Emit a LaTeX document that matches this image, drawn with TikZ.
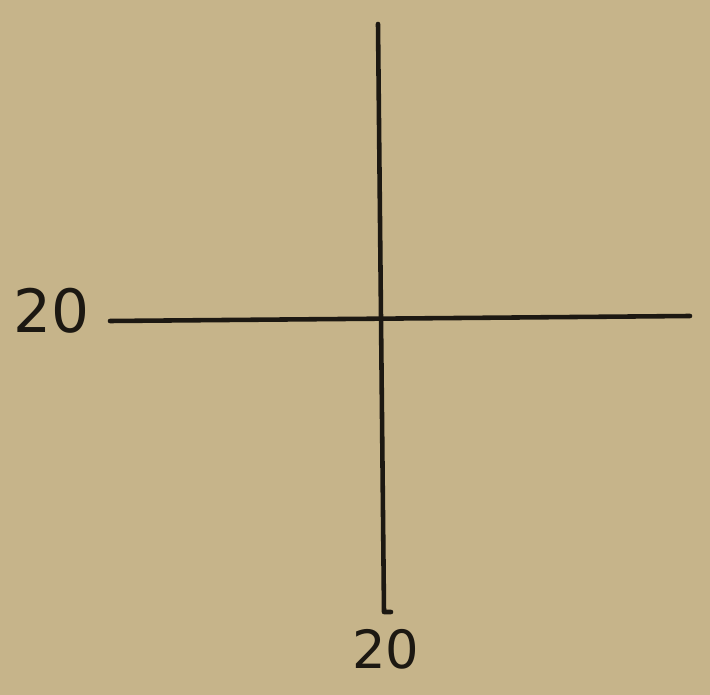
\documentclass[tikz,border=0pt]{standalone}
\usepackage{fontspec}
\setmainfont{DejaVu Sans}
\usepackage{xcolor}
\usepackage{tikz}
\usetikzlibrary{positioning, calc}

\definecolor{paper}{RGB}{198,180,138}
\definecolor{ink}{RGB}{28,24,18}

\begin{document}
\begin{tikzpicture}[
    x=0.02cm, y=-0.02cm,
    inkline/.style={draw=ink, line width=2.6pt, line cap=round, line join=round},
    tag/.style={text=ink, inner sep=0pt, font=\fontsize{34}{34}\selectfont},
]

% Paper
\fill[paper] (0,0) rectangle (710,695);
\useasboundingbox (0,0) rectangle (710,695);

% Axis ends
\coordinate (vtop) at (378,24);
\coordinate (vbot) at (384,612);
\coordinate (vhook) at (391,612);
\coordinate (hleft) at (110,321);
\coordinate (hright) at (690,316);

% Labels
\node[tag] (leftlab) at (52,311) {20};
\node[tag, font=\fontsize{30}{30}\selectfont] (botlab) at (386,649) {20};

% Lines
\draw[inkline] (vtop) -- (vbot) -- (vhook);
\draw[inkline] (hleft) -- (hright);

\end{tikzpicture}
\end{document}
